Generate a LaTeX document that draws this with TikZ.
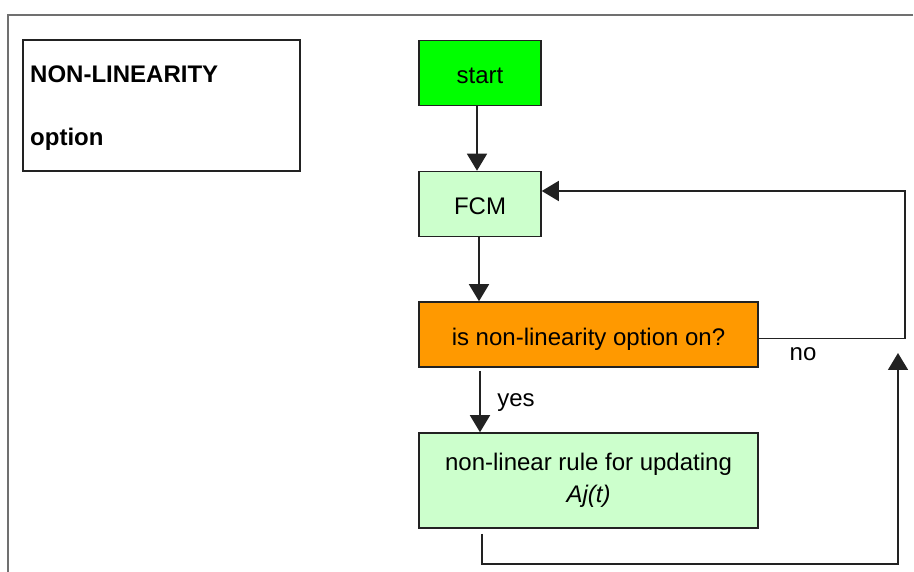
\documentclass[tikz,border=0pt]{standalone}
\usepackage{fontspec}
\setmainfont{Liberation Sans}
\usetikzlibrary{arrows.meta,calc}
\definecolor{startgreen}{HTML}{00FF00}
\definecolor{palegreen}{HTML}{CCFFCC}
\definecolor{orangebox}{HTML}{FF9900}
\definecolor{framegray}{HTML}{707070}
\definecolor{edge}{HTML}{222222}
\tikzset{
  txt/.style={font=\fontsize{24}{32}\selectfont, inner sep=0pt},
  stepbox/.style={draw=edge, line width=1.6pt, txt, align=center},
  oneline/.style={text height=22pt, text depth=0pt},
  arr/.style={draw=edge, line width=1.6pt, -{Triangle[width=20pt,length=17pt]}},
  titletxt/.style={font=\fontsize{24}{28}\selectfont\bfseries, inner sep=0pt, anchor=west}
}
\begin{document}
\begin{tikzpicture}[x=1pt,y=-1pt]
\useasboundingbox (0,0) rectangle (914,572);
\fill[white] (0,0) rectangle (914,572);
% outer frame
\draw[framegray, line width=2pt] (913,15) -- (8,15) -- (8,572);
% title box
\node[draw=edge, line width=1.6pt, minimum width=277pt, minimum height=131pt, inner sep=0pt] (title) at (161.5,105.5) {};
\node[titletxt] (t1) at (30,74) {NON-LINEARITY};
\node[titletxt] (t2) at (30,139) {option};
% flow boxes
\node[stepbox, oneline, fill=startgreen, minimum width=122pt, minimum height=65pt] (start) at (480,73) {start};
\node[stepbox, oneline, fill=palegreen, minimum width=122pt, minimum height=65pt] (fcm) at (480,204) {FCM};
\node[stepbox, oneline, fill=orangebox, minimum width=339pt, minimum height=65pt] (orange) at (588.5,334.5) {is non-linearity option on?};
\node[stepbox, fill=palegreen, minimum width=339pt, minimum height=95pt] (rule) at (588.5,480.5) {non-linear rule for updating\\\textit{Aj(t)}};
% connectors
\draw[arr] ([xshift=-3pt]start.south) -- ([xshift=-3pt]fcm.north);
\draw[arr] ([xshift=-1pt]fcm.south -| start.south) -- ([xshift=-1pt]orange.north -| start.south);
\draw[arr] ([yshift=-3pt]orange.south -| fcm.south) -- (rule.north -| fcm.south);
\coordinate (r1) at (905,191);
\draw[arr] ([yshift=-4pt]orange.east) -| (r1) -- ([yshift=13pt]fcm.east);
\coordinate (b1) at (898,564);
\coordinate (b2) at (898,353);
\draw[arr] ([yshift=-5pt]rule.south -| 482,0) |- (b1) -- (b2);
% labels
\node[txt] (yes) at (516,403) {yes};
\node[txt] (no) at (803,354) {no};
\end{tikzpicture}
\end{document}
